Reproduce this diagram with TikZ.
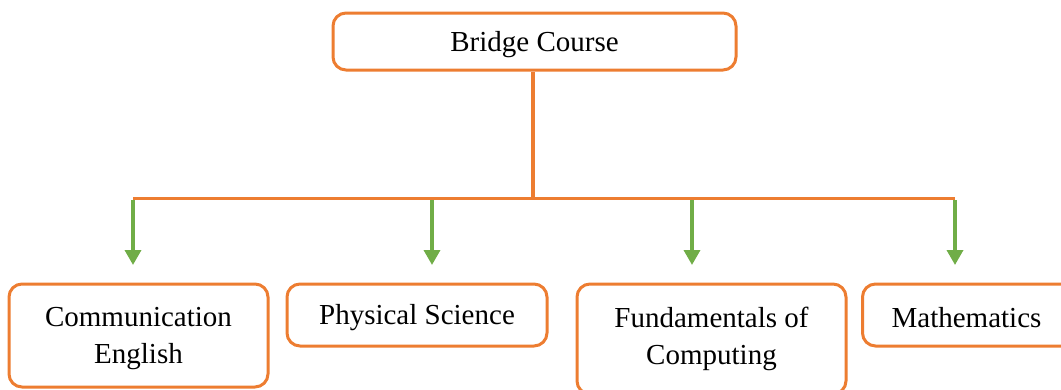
\documentclass[tikz,border=0pt]{standalone}
\usepackage{fontspec}
\setmainfont{Liberation Serif}
\usetikzlibrary{arrows.meta}
\definecolor{borange}{HTML}{ED7D31}
\definecolor{bgreen}{HTML}{70AD47}
\newcommand\boxstrut{\rule{0pt}{26pt}}
\tikzset{
  box/.style={draw=borange, line width=3pt, rounded corners=13pt, fill=white,
    align=center, inner sep=0pt, font=\fontsize{29}{37}\selectfont},
  trunk/.style={draw=borange, line width=3.5pt},
  arr/.style={draw=bgreen, line width=3.5pt, -{Triangle[width=16pt,length=15pt]}},
}
\begin{document}
\begin{tikzpicture}[x=1pt,y=-1pt]
\useasboundingbox (0,0) rectangle (1061,389);
\node[box, minimum width=403pt, minimum height=57pt] (top) at (534.5,41.5) {\boxstrut Bridge Course};
\node[box, minimum width=259pt, minimum height=103pt] (ce) at (138.5,335.5) {\boxstrut Communication\\English};
\node[box, minimum width=260pt, minimum height=62pt] (ps) at (417,315) {\boxstrut Physical Science};
\node[box, minimum width=269pt, minimum height=110pt] (fc) at (711.5,339) {Fundamentals of\\Computing};
\node[box, minimum width=212pt, minimum height=62pt, anchor=west] (ma) at (861,315) {\boxstrut\hspace*{-4pt}Mathematics};
\coordinate (busL) at (133,198.5);
\coordinate (busR) at (955,198.5);
\coordinate (busM) at (533,198.5);
\draw[trunk] (top.south -| busM) -- (busM);
\draw[trunk] (busL) -- (busR);
\coordinate (a1) at (133,200); \coordinate (b1) at (133,265);
\coordinate (a2) at (432,200); \coordinate (b2) at (432,265);
\coordinate (a3) at (692,200); \coordinate (b3) at (692,265);
\coordinate (a4) at (955,200); \coordinate (b4) at (955,265);
\draw[arr] (a1) -- (b1);
\draw[arr] (a2) -- (b2);
\draw[arr] (a3) -- (b3);
\draw[arr] (a4) -- (b4);
\end{tikzpicture}
\end{document}
